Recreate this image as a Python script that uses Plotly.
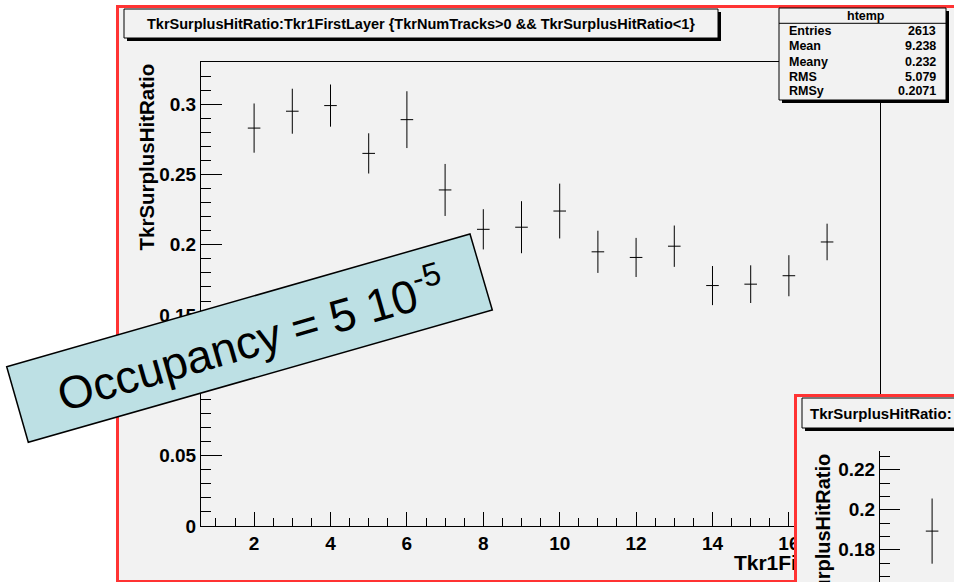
import plotly.graph_objects as go

# ---- data: profile of TkrSurplusHitRatio vs Tkr1FirstLayer ----
layers = [2, 3, 4, 5, 6, 7, 8, 9, 10, 11, 12, 13, 14, 15, 16, 17]
ratio = [0.283, 0.295, 0.299, 0.265, 0.289, 0.239, 0.211, 0.2125,
         0.224, 0.195, 0.191, 0.199, 0.171, 0.172, 0.178, 0.202]
ratio_err = [0.0175, 0.016, 0.015, 0.0143, 0.0202, 0.0185, 0.0143, 0.0185,
             0.0195, 0.015, 0.0139, 0.0147, 0.0139, 0.0134, 0.0146, 0.013]

# second (partially visible) profile
inset_layers = [2]
inset_ratio = [0.1893]
inset_err = [0.0163]

title_text = "TkrSurplusHitRatio:Tkr1FirstLayer {TkrNumTracks&gt;0 &amp;&amp; TkrSurplusHitRatio&lt;1}"
x_title = "Tkr1FirstLayer"
y_title = "TkrSurplusHitRatio"
stat_names = ["Entries", "Mean", "Meany", "RMS", "RMSy"]
stat_values = ["2613", "9.238", "0.232", "5.079", "0.2071"]

# ---- geometry: positions are given on a 954 x 582 grid ----
W, H = 954, 582
FIG_W, FIG_H = 954, 593
GRAY = "#f2f2f2"
RED = "#ff3333"
BOLD = dict(family="Liberation Sans, Arial, sans-serif", color="black", weight="bold")


def px(x):
    return x / W


def py(y):
    return 1 - y / H


X_RANGE = [0.61, 18.385]
Y_RANGE = [0.0, 0.33]
X2_RANGE = [0.61 - 84 / 38.2, 0.61 + 75 / 38.2]
Y2_RANGE = [0.2 - 72.3 / 2000, 0.2 + 58.7 / 2000]
X_TITLE_CENTER = 16.47   # title ends at the right end of the axis

fig = go.Figure()

fig.add_trace(go.Scatter(
    x=layers, y=ratio, mode="markers",
    marker=dict(symbol="line-ew", size=9, line=dict(width=1, color="black"), color="black"),
    error_y=dict(type="data", array=ratio_err, visible=True, thickness=1, width=0, color="black"),
    hoverinfo="skip", xaxis="x", yaxis="y",
))

# x-axis title, hung below the axis line (invisible anchor marker sets the offset)
fig.add_trace(go.Scatter(
    x=[X_TITLE_CENTER], y=[Y_RANGE[0]], mode="markers+text", text=[x_title],
    textposition="bottom center", textfont=dict(size=21, **BOLD),
    marker=dict(size=42.8, opacity=0),
    cliponaxis=False, hoverinfo="skip", xaxis="x", yaxis="y",
))

fig.add_trace(go.Scatter(
    x=inset_layers, y=inset_ratio, mode="markers",
    marker=dict(symbol="line-ew", size=9, line=dict(width=1, color="black"), color="black"),
    error_y=dict(type="data", array=inset_err, visible=True, thickness=1, width=0, color="black"),
    hoverinfo="skip", xaxis="x2", yaxis="y2",
))

axis_common = dict(
    showline=True, linecolor="black", linewidth=1, showgrid=False, zeroline=False,
    ticks="inside", tickcolor="black", tickwidth=1,
    tickfont=dict(size=19, **BOLD),
)

fig.update_layout(
    width=FIG_W, height=FIG_H, margin=dict(l=0, r=0, t=0, b=0),
    paper_bgcolor="white", plot_bgcolor="rgba(0,0,0,0)", showlegend=False,
    xaxis=dict(domain=[px(201), px(880)], range=X_RANGE, anchor="y", mirror=True,
               dtick=2, tick0=0, ticklen=14,
               minor=dict(dtick=0.5, ticklen=8, ticks="inside", tickcolor="black"),
               **axis_common),
    yaxis=dict(domain=[py(526), py(62)], range=Y_RANGE, anchor="x", mirror=True,
               dtick=0.05, tick0=0, ticklen=21,
               minor=dict(dtick=0.01, ticklen=10, ticks="inside", tickcolor="black"),
               **axis_common),
    xaxis2=dict(domain=[px(795), 1], range=X2_RANGE, anchor="y2", visible=False),
    yaxis2=dict(domain=[0, py(451)], range=Y2_RANGE, anchor="free", position=px(879),
                dtick=0.02, tick0=0, ticklen=20,
                minor=dict(dtick=0.02 / 3, ticklen=10, ticks="inside", tickcolor="black"),
                **axis_common),
)

shapes = []
# canvas with red outline
shapes.append(dict(type="rect", xref="paper", yref="paper", layer="below",
                   x0=px(117.5), x1=px(990), y0=py(6.5), y1=py(581.5),
                   fillcolor=GRAY, line=dict(color=RED, width=3)))
# inset canvas covering the lower-right part of the main pad
shapes.append(dict(type="rect", xref="x2", yref="y2", layer="below",
                   x0=X2_RANGE[0], x1=X2_RANGE[1], y0=Y2_RANGE[0], y1=Y2_RANGE[1],
                   fillcolor=GRAY, line=dict(width=0)))


def box(x0, y0, x1, y1, shadow=3):
    out = []
    if shadow:
        out.append(dict(type="rect", xref="paper", yref="paper", layer="above",
                        x0=px(x0 + shadow), x1=px(x1 + shadow), y0=py(y0 + shadow), y1=py(y1 + shadow),
                        fillcolor="black", line=dict(width=0)))
    out.append(dict(type="rect", xref="paper", yref="paper", layer="above",
                    x0=px(x0), x1=px(x1), y0=py(y0), y1=py(y1),
                    fillcolor=GRAY, line=dict(color="black", width=1)))
    return out


# main title box
shapes += box(124, 9, 718, 38)
# statistics box
shapes += box(779, 8, 946, 100, shadow=3)
shapes.append(dict(type="line", xref="paper", yref="paper", layer="above",
                   x0=px(779), x1=px(946), y0=py(23.3), y1=py(23.3),
                   line=dict(color="black", width=1)))
# upper part of the inset pad
shapes.append(dict(type="rect", xref="paper", yref="paper", layer="above",
                   x0=px(795), x1=px(990), y0=py(395), y1=py(451),
                   fillcolor=GRAY, line=dict(width=0)))
shapes.append(dict(type="rect", xref="paper", yref="paper", layer="above",
                   x0=px(795.5), x1=px(1000), y0=py(395.5), y1=py(700),
                   fillcolor="rgba(0,0,0,0)", line=dict(color=RED, width=3)))
shapes += box(802, 398, 1000, 428)

# rotated label box
corners = [(6.7, 366.7), (470, 234), (492.3, 310), (28.3, 442.3)]
path = "M " + " L ".join(f"{px(a):.5f},{py(b):.5f}" for a, b in corners) + " Z"
shapes.append(dict(type="path", xref="paper", yref="paper", layer="above", path=path,
                   fillcolor="#bde0e4", line=dict(color="black", width=1.5)))
fig.update_layout(shapes=shapes)

ann = []
ann.append(dict(text=title_text, x=px(421), y=py(24), xref="paper", yref="paper",
                xanchor="center", yanchor="middle", showarrow=False, font=dict(size=14.5, **BOLD)))
ann.append(dict(text=y_title, x=px(146), y=py(62), xref="paper", yref="paper",
                xanchor="center", yanchor="top", textangle=-90, showarrow=False,
                font=dict(size=20.5, **BOLD)))
ann.append(dict(text="htemp", x=px(866), y=py(15.5), xref="paper", yref="paper",
                xanchor="center", yanchor="middle", showarrow=False, font=dict(size=12.5, **BOLD)))
row_y = [31, 46, 62, 77, 91]
for name, val, yy in zip(stat_names, stat_values, row_y):
    ann.append(dict(text=name, x=px(787), y=py(yy), xref="paper", yref="paper",
                    xanchor="left", yanchor="middle", showarrow=False, font=dict(size=12.5, **BOLD)))
    ann.append(dict(text=val, x=px(938), y=py(yy), xref="paper", yref="paper",
                    xanchor="right", yanchor="middle", showarrow=False, font=dict(size=12.5, **BOLD)))
# inset labels
ann.append(dict(text="TkrSurplusHitRatio:", x=px(808), y=py(413), xref="paper", yref="paper",
                xanchor="left", yanchor="middle", showarrow=False, font=dict(size=15, **BOLD)))
ann.append(dict(text=y_title, x=px(823), y=py(452), xref="paper", yref="paper",
                xanchor="center", yanchor="top", textangle=-90, showarrow=False,
                font=dict(size=20, **BOLD)))
# occupancy label
ann.append(dict(text="Occupancy = 5 10<sup>-5</sup>", x=px(250), y=py(338), xref="paper", yref="paper",
                xanchor="center", yanchor="middle", textangle=-16, showarrow=False,
                font=dict(family="Liberation Sans, Arial, sans-serif", size=46, color="black")))
fig.update_layout(annotations=ann)

fig.write_html("out.html")
